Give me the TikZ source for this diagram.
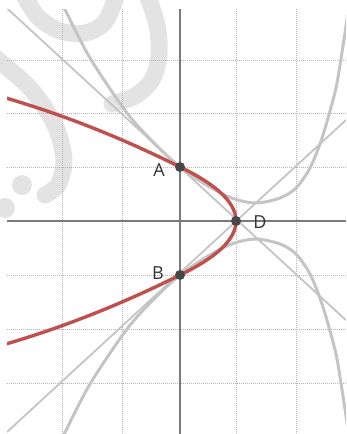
\documentclass[tikz,border=0pt]{standalone}
\usepackage{fontspec}
\setmainfont{Open Sans}
\definecolor{redc}{HTML}{C0504D}
\definecolor{greyc}{HTML}{C4C4C4}
\definecolor{axisc}{HTML}{7A7A7A}
\definecolor{gridc}{HTML}{B4B4B4}
\definecolor{wmc}{HTML}{E3E3E3}
\definecolor{dotc}{HTML}{474747}
\definecolor{labc}{HTML}{333333}
\begin{document}
\begin{tikzpicture}[x=1pt,y=-1pt,
  wm/.style={draw=wmc,line width=17pt,line cap=round},
  gridline/.style={draw=gridc,line width=0.9pt,dash pattern=on 1pt off 1pt},
  axisline/.style={draw=axisc,line width=2.4pt},
  gline/.style={draw=greyc,line width=1.8pt},
  gcurve/.style={draw=greyc,line width=3pt},
  redcurve/.style={draw=redc,line width=3.4pt,line cap=round,line join=round},
  pt/.style={circle,fill=dotc,inner sep=0pt,minimum size=10pt},
  lab/.style={text=labc,font=\fontsize{18}{20}\selectfont,inner sep=0pt}]
\useasboundingbox (0,0) rectangle (346,434);
% watermark
\draw[wm] plot[smooth] coordinates {(22,-8) (38,17) (60,31) (85,33) (105,22) (118,-8)};
\draw[wm] plot[smooth] coordinates {(146,-8) (157,25) (159,55) (152,80) (135,96) (112,104)};
\draw[wm] plot[smooth] coordinates {(-8,55) (30,88) (55,125) (64,160) (58,185) (45,195)};
\fill[wmc] (22,185) circle (10);
\fill[wmc] (5,208) circle (10);
\begin{scope}
\clip (7,9) rectangle (346,434);
% grid
\foreach \x in {62,122,236,296} \draw[gridline] (\x,9) -- (\x,434);
\foreach \y in {60,113.5,167,275,329.5,383.5} \draw[gridline] (7,\y) -- (346,\y);
% axes
\draw[axisline] (180,9) -- (180,434);
\draw[axisline] (7,221) -- (346,221);
% grey lines
\coordinate (l1a) at (7,8.3);
\coordinate (l1b) at (346,320.2);
\coordinate (l2a) at (7,432);
\coordinate (l2b) at (346,120);
\draw[gline] (l1a) -- (l1b);
\draw[gline] (l2a) -- (l2b);
% grey curves
\draw[gcurve] plot[smooth] coordinates {(62,3) (65,9.5) (90,58) (127,113) (155,144) (180,167) (208,186) (233,198.5) (256,203) (280,198) (296,188) (310,168) (321,141) (330,111) (337,83) (345,33) (348,12)};
\draw[gcurve] plot[smooth] coordinates {(62,439) (65,432.5) (90,384) (127,329) (155,298) (180,275) (208,256) (233,243.5) (256,239) (280,244) (296,254) (310,274) (321,301) (330,331) (337,359) (345,409) (348,430)};
% red curve
\draw[redcurve]
  plot[domain=175:0,samples=36] ({180-\x},{221-(54+0.5*\x-0.0006*\x*\x)})
  -- plot[domain=1:-1,samples=81] ({180+56*(1-\x*\x)},{221-54*\x})
  -- plot[domain=0:175,samples=36] ({180-\x},{221+(54+0.5*\x-0.0006*\x*\x)});
\end{scope}
% points
\node[pt] (A) at (180,167) {};
\node[pt] (B) at (180,275) {};
\node[pt] (D) at (236,221) {};
\node[lab] (lA) at (159,170) {A};
\node[lab] (lB) at (158,273) {B};
\node[lab] (lD) at (260,222) {D};
\end{tikzpicture}
\end{document}
